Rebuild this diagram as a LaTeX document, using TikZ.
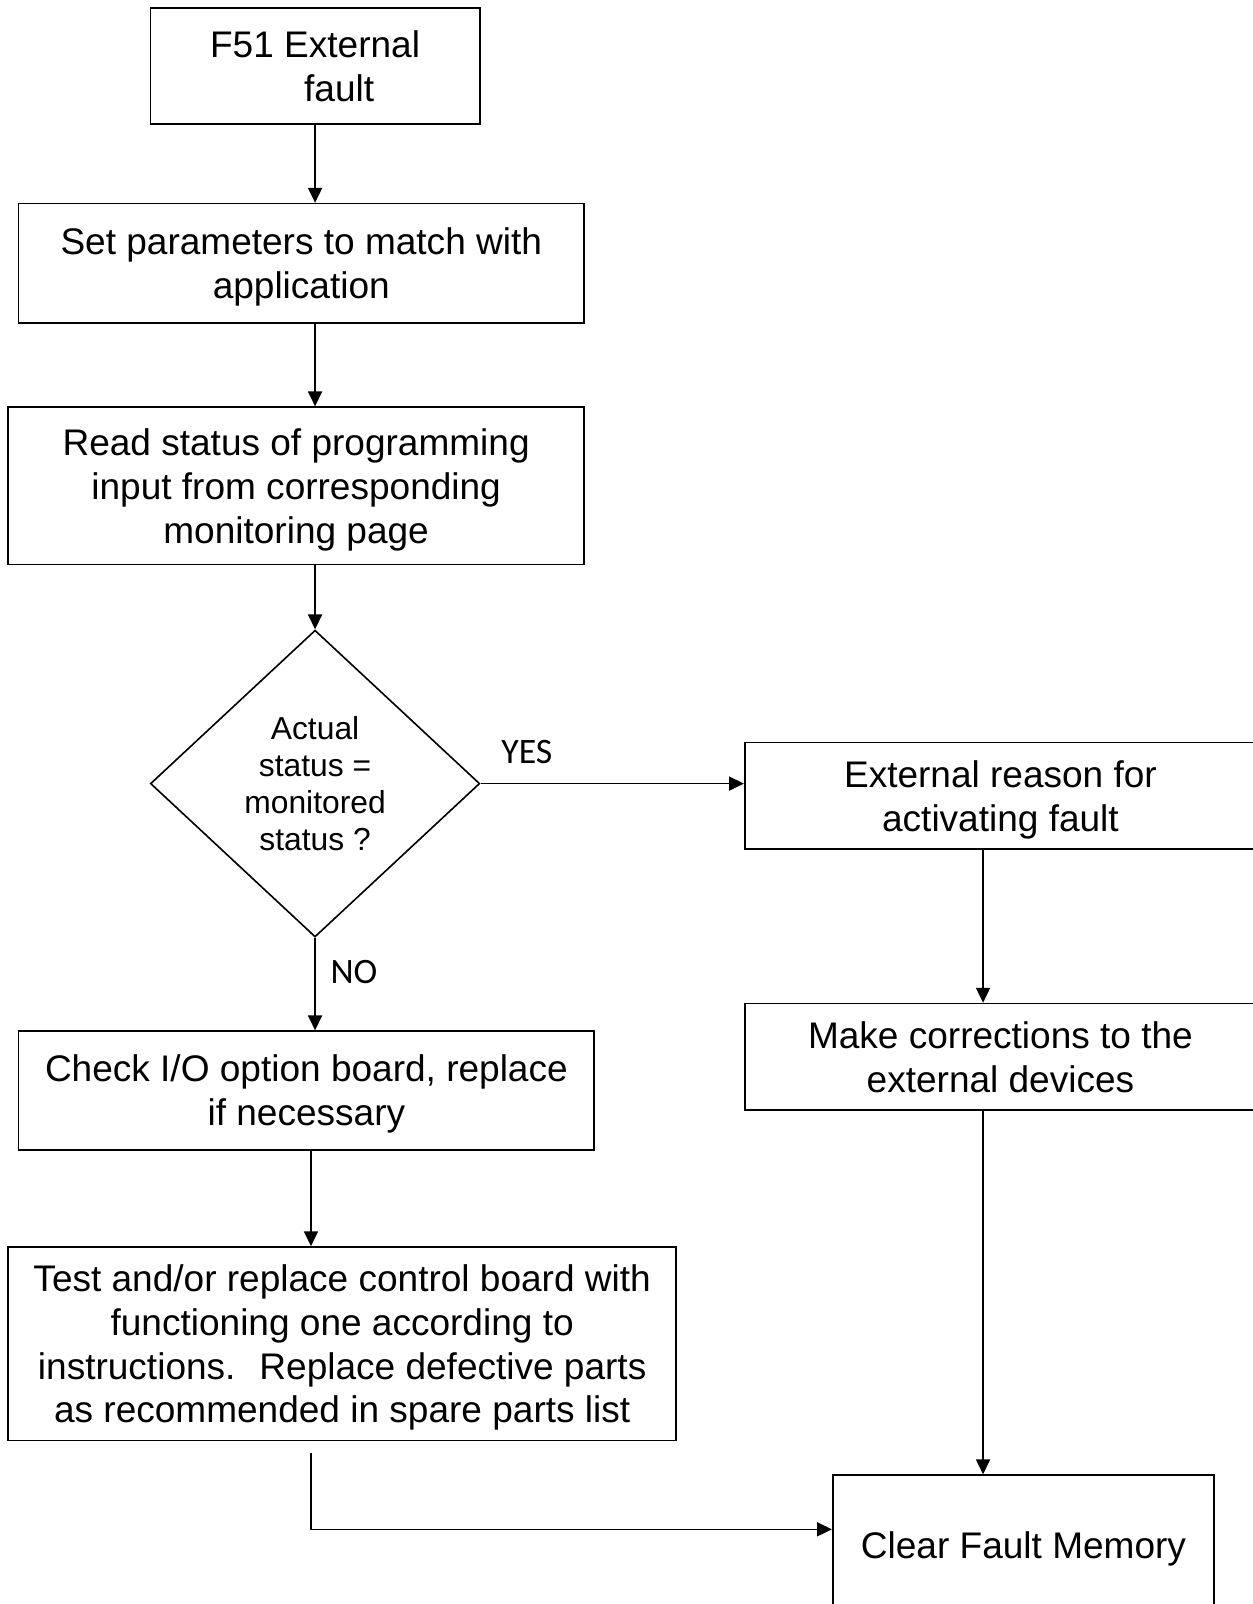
\documentclass[tikz,border=0pt]{standalone}
\usepackage{fontspec}
\setmainfont{Liberation Sans}
\newfontfamily\labelfont{Carlito}
\usetikzlibrary{shapes.geometric,arrows.meta}

\begin{document}
\begin{tikzpicture}[x=0.02cm, y=-0.02cm,
    block/.style={draw, line width=0.9pt, rectangle, align=center, inner sep=0pt, text depth=0pt, font=\fontsize{20.6}{24.4}\selectfont},
    decision/.style={draw, line width=0.9pt, diamond, align=center, inner sep=0pt, text depth=0pt, font=\fontsize{17.7}{20.5}\selectfont},
    flow/.style={line width=0.9pt, -{Triangle[length=8.3pt,width=7.8pt]}},
    answer/.style={font=\labelfont\fontsize{19.9}{24}\selectfont}]
    \useasboundingbox (0,0) rectangle (1224,1568);

    \coordinate (lcol) at (304, 0);
    \coordinate (rcol) at (961, 0);
    \coordinate (tbend) at (304, 1420);
    \coordinate (bend) at (304, 1495);

    \node[block, minimum width=6.44cm, minimum height=2.26cm] (fault) at (308, 64.5) {F51 External\\\hspace*{1.3em}fault};
    \node[block, minimum width=11.06cm, minimum height=2.34cm] (setpar) at (294.5, 257.5) {Set parameters to match with\\application};
    \node[block, minimum width=11.26cm, minimum height=3.08cm] (readst) at (289.5, 475) {Read status of programming\\input from corresponding\\monitoring page};
    \node[decision, minimum width=6.44cm, minimum height=6cm] (decide) at (308, 766) {Actual\\status =\\monitored\\status ?};
    \node[block, minimum width=10cm, minimum height=2.08cm] (extreason) at (978, 778) {External reason for\\activating fault};
    \node[block, minimum width=10cm, minimum height=2.08cm] (makecorr) at (978, 1033) {Make corrections to the\\external devices};
    \node[block, minimum width=11.26cm, minimum height=2.32cm] (checkio) at (299.5, 1066) {Check I/O option board, replace\\if necessary};
    \node[block, minimum width=13.06cm, minimum height=3.78cm] (testbd) at (334.5, 1313.5) {Test and/or replace control board with\\functioning one according to\\instructions.~ Replace defective parts\\as recommended in spare parts list};
    \node[block, minimum width=7.46cm, minimum height=2.72cm] (clearfm) at (1000.5, 1510) {Clear Fault Memory};

    \node[answer] (yes) at (515, 735) {YES};
    \node[answer] (no) at (346, 950) {NO};

    \draw[flow] (fault.south) -- (fault.south |- setpar.north);
    \draw[flow] (setpar.south -| fault.south) -- (readst.north -| fault.south);
    \draw[flow] (readst.south -| decide.north) -- (decide.north);
    \draw[flow] (decide.east) -- (decide.east -| extreason.west);
    \draw[flow] (decide.south) -- (decide.south |- checkio.north);
    \draw[flow] (extreason.south -| rcol) -- (makecorr.north -| rcol);
    \draw[flow] (makecorr.south -| rcol) -- (clearfm.north -| rcol);
    \draw[flow] (checkio.south -| lcol) -- (testbd.north -| lcol);
    \draw[flow] (tbend) -- (bend) -- (bend -| clearfm.west);

\end{tikzpicture}
\end{document}
